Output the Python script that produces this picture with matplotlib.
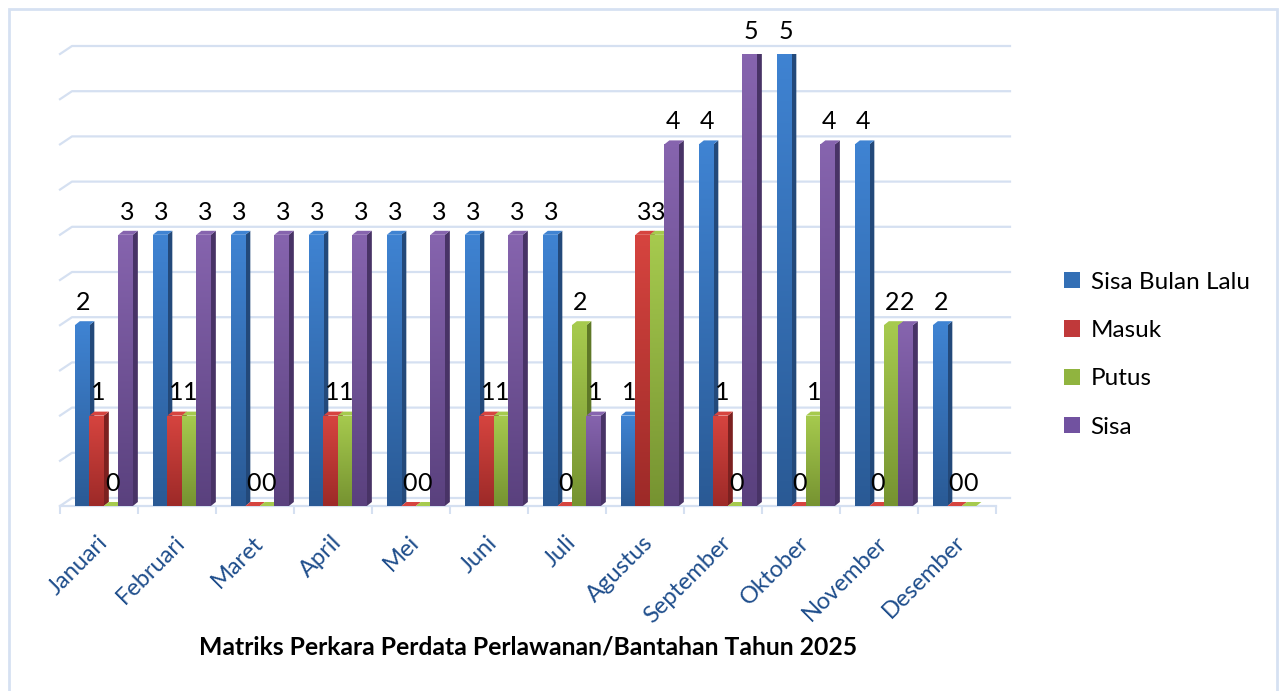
import numpy as np
import matplotlib
matplotlib.use("Agg")
import matplotlib.pyplot as plt
import matplotlib.transforms as mtransforms
from matplotlib.patches import Polygon, Rectangle
from matplotlib.colors import to_rgb

months = ["Januari", "Februari", "Maret", "April", "Mei", "Juni", "Juli",
          "Agustus", "September", "Oktober", "November", "Desember"]
sisa_bulan_lalu = [2, 3, 3, 3, 3, 3, 3, 1, 4, 5, 4, 2]
masuk = [1, 1, 0, 1, 0, 1, 0, 3, 1, 0, 0, 0]
putus = [0, 1, 0, 1, 0, 1, 2, 3, 0, 1, 2, 0]
sisa = [3, 3, 3, 3, 3, 3, 1, 4, 5, 4, 2, np.nan]
series_names = ["Sisa Bulan Lalu", "Masuk", "Putus", "Sisa"]
title = "Matriks Perkara Perdata Perlawanan/Bantahan Tahun 2025"

# (top, bottom, side, legend) colours
colors = [("#3f83d2", "#2a5a95", "#23497a", "#336fb5"),
          ("#d6443f", "#9d2a28", "#7c2120", "#c0393a"),
          ("#a6ca4e", "#769331", "#5e7827", "#90b43f"),
          ("#8664ae", "#5a417e", "#483366", "#7152a0")]
grid_c = "#d5e0f1"

plt.rcParams['font.family'] = ['Lato', 'DejaVu Sans']

W, H = 1282, 691
fig = plt.figure(figsize=(W / 100, H / 100), dpi=100)
px_left, px_right, px_base, px_top = 60, 996, 506, 54
ax = fig.add_axes([px_left / W, (H - px_base) / H,
                   (px_right - px_left) / W, (px_base - px_top) / H])
ax.set_xlim(0, 12)
ax.set_ylim(0, 5)
ux = 12 / (px_right - px_left)   # data units per pixel
uy = 5 / (px_base - px_top)
for s in ax.spines.values():
    s.set_visible(False)
ax.set_yticks([])

# back wall grid lines and floor
gx, gy = 12 * ux, 8 * uy
for v in np.arange(0, 5.01, 0.5):
    ax.plot([0, gx, 12 + 14 * ux], [v, v + gy, v + gy], color=grid_c,
            lw=1.6, clip_on=False, zorder=1)
ax.plot([0, 12], [0, 0], color=grid_c, lw=1.6, clip_on=False, zorder=1)

n = len(months)
x = np.arange(n)
bw = 0.186
start = 0.19
dx, dy = 5 * ux, 4 * uy

grad = np.linspace(0, 1, 64).reshape(-1, 1)
all_vals = [sisa_bulan_lalu, masuk, putus, sisa]
for k, vals in enumerate(all_vals):
    top, bot, side, _ = colors[k]
    ctop, cbot = np.array(to_rgb(top)), np.array(to_rgb(bot))
    img = cbot + (ctop - cbot) * grad[:, :, None] * np.ones((1, 1, 3))
    bars = ax.bar(x + start + k * bw, vals, width=bw, align='edge',
                  color=bot, linewidth=0, label=series_names[k])
    for i, (p, v) in enumerate(zip(bars.patches, vals)):
        if np.isnan(v):
            continue
        z = 3 + (i * 4 + k) * 0.01
        x0, x1, h = p.get_x(), p.get_x() + p.get_width(), p.get_height()
        p.set_zorder(z + 0.003)
        # side and top faces for the 3d look
        ax.add_patch(Polygon([(x1, 0), (x1 + dx, dy), (x1 + dx, h + dy), (x1, h)],
                             closed=True, fc=side, ec='none', zorder=z))
        ax.add_patch(Polygon([(x0, h), (x0 + dx, h + dy), (x1 + dx, h + dy), (x1, h)],
                             closed=True, fc=top, ec='none', zorder=z + 0.001))
        if h > 0:
            im = ax.imshow(img, extent=(x0, x1, 0, h), origin='lower',
                           aspect='auto', interpolation='bilinear', zorder=z + 0.004)
            im.set_clip_path(p)
        ax.annotate(f"{v:g}", (x0 + bw / 2, h), xytext=(1, 11), textcoords='offset points',
                    ha='center', va='baseline', fontsize=18, color='black', zorder=10)

ax.set_xlim(0, 12)
ax.set_ylim(0, 5)

ax.set_xticks(x + 0.5)
ax.set_xticklabels(months, rotation=45, ha='right', va='center',
                   rotation_mode='anchor', fontsize=17, color='#1f4e8c')
ax.tick_params(axis='x', which='major', length=0, pad=24)
shift = mtransforms.ScaledTranslation(5 / 100, 0, fig.dpi_scale_trans)
for lab in ax.get_xticklabels():
    lab.set_transform(lab.get_transform() + shift)
ax.set_xticks(np.arange(0, 13), minor=True)
ax.tick_params(axis='x', which='minor', length=6, width=1.5, color=grid_c)

handles = [Rectangle((0, 0), 1, 1, fc=c[3], ec='none') for c in colors]
fig.legend(handles, series_names, loc='upper left',
           bbox_to_anchor=(1042 / W, 1 - 250 / H), frameon=False, fontsize=17.5,
           handlelength=0.65, handleheight=0.65, handletextpad=0.45,
           labelspacing=1.12)

fig.text(528 / W, 1 - 647 / H, title, ha='center', va='center',
         fontweight='bold', fontsize=17.8)

fig.patches.append(Rectangle((9 / W, -0.05), (1277 - 9) / W, (H - 9) / H + 0.05,
                             transform=fig.transFigure, fill=False,
                             ec='#d6e1f2', lw=2))

fig.savefig("out.png", dpi=100)
